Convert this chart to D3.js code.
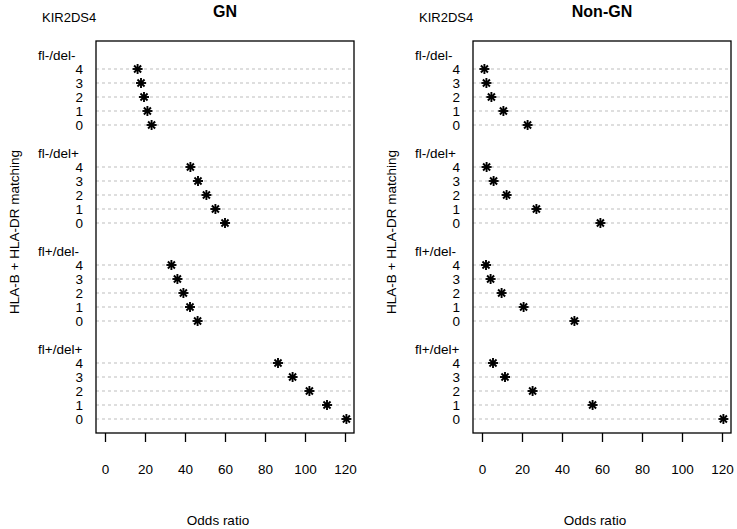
<!DOCTYPE html>
<html>
<head>
<meta charset="utf-8">
<script src="https://cdnjs.cloudflare.com/ajax/libs/d3/7.8.5/d3.min.js"></script>
<style>
  html, body { margin: 0; padding: 0; background: #fff; }
  svg { display: block; font-family: "Liberation Sans", Arial, sans-serif; }
</style>
</head>
<body>
<svg id="chart" width="737" height="529"></svg>
<script>
// ---- data ----
const groups = ["fl-/del-", "fl-/del+", "fl+/del-", "fl+/del+"];
const levels = ["4", "3", "2", "1", "0"];
const xTicks = [0, 20, 40, 60, 80, 100, 120];
const panelTitles = ["GN", "Non-GN"];
// odds ratios, per group, in order of levels 4,3,2,1,0
const gnValues = [
  [16.3, 18.0, 19.5, 21.2, 23.3],
  [42.7, 46.5, 50.7, 55.2, 60.0],
  [33.2, 36.2, 39.2, 42.5, 46.3],
  [86.5, 93.8, 102.2, 111.0, 120.7]
];
const nonGnValues = [
  [1.2, 2.2, 4.7, 10.7, 22.8],
  [2.3, 5.8, 12.3, 27.2, 59.2],
  [2.0, 4.3, 9.8, 20.8, 46.2],
  [5.5, 11.5, 25.3, 55.3, 120.7]
];

const svg = d3.select("#chart");

function drawPanel(offsetX, title, values) {
  const g = svg.append("g").attr("transform", `translate(${offsetX},0)`);
  const boxL = 96, boxR = 354, boxT = 41, boxB = 433;
  const x = d3.scaleLinear().domain([-4.5, 124.5]).range([boxL, boxR]);
  const y = d3.scaleLinear().domain([-2, 26]).range([boxT, boxB]);

  // rows
  groups.forEach((grp, gi) => {
    g.append("text")
      .attr("x", 38).attr("y", y(gi * 7 - 1)).attr("dy", "0.35em")
      .attr("font-size", 13.5).text(grp);
    levels.forEach((lv, li) => {
      const slot = gi * 7 + li;
      const yy = y(slot);
      g.append("line")
        .attr("x1", boxL).attr("x2", boxR).attr("y1", yy).attr("y2", yy)
        .attr("stroke", "#bdbdbd").attr("stroke-width", 1)
        .attr("stroke-dasharray", "3,3");
      g.append("text")
        .attr("x", 83).attr("y", yy).attr("dy", "0.35em")
        .attr("text-anchor", "end").attr("font-size", 13.5).text(lv);
      const v = values[gi][li];
      const cx = x(v), r = 5, d = r * 0.7071;
      const star = g.append("g").attr("stroke", "#000").attr("stroke-width", 1.9);
      star.append("line").attr("x1", cx - r).attr("x2", cx + r).attr("y1", yy).attr("y2", yy);
      star.append("line").attr("x1", cx).attr("x2", cx).attr("y1", yy - r).attr("y2", yy + r);
      star.append("line").attr("x1", cx - d).attr("x2", cx + d).attr("y1", yy - d).attr("y2", yy + d);
      star.append("line").attr("x1", cx - d).attr("x2", cx + d).attr("y1", yy + d).attr("y2", yy - d);
    });
  });

  // box
  g.append("rect")
    .attr("x", boxL).attr("y", boxT).attr("width", boxR - boxL).attr("height", boxB - boxT)
    .attr("fill", "none").attr("stroke", "#000").attr("stroke-width", 1.3);

  // x axis
  const ax = g.append("g").attr("transform", `translate(0,${boxB})`)
    .call(d3.axisBottom(x).tickValues(xTicks).tickSize(9).tickPadding(22));
  ax.select(".domain").remove();
  ax.selectAll(".tick line").attr("stroke", "#000").attr("stroke-width", 1.3);
  ax.selectAll(".tick text").attr("font-size", 13.5).attr("fill", "#000")
    .attr("font-family", "Liberation Sans, Arial, sans-serif");

  g.append("text").attr("x", (boxL + boxR) / 2 - 7).attr("y", 520).attr("dy", "0.35em")
    .attr("text-anchor", "middle").attr("font-size", 13.5).text("Odds ratio");

  g.append("text").attr("x", (boxL + boxR) / 2).attr("y", 11).attr("dy", "0.35em")
    .attr("text-anchor", "middle").attr("font-size", 16).attr("font-weight", "bold").text(title);

  g.append("text").attr("x", 42).attr("y", 17).attr("dy", "0.35em")
    .attr("font-size", 13).text("KIR2DS4");

  g.append("text")
    .attr("transform", `translate(14,232) rotate(-90)`)
    .attr("dy", "0.35em").attr("text-anchor", "middle").attr("font-size", 13.5)
    .text("HLA-B + HLA-DR matching");
}

drawPanel(0, panelTitles[0], gnValues);
drawPanel(377, panelTitles[1], nonGnValues);
</script>
</body>
</html>
